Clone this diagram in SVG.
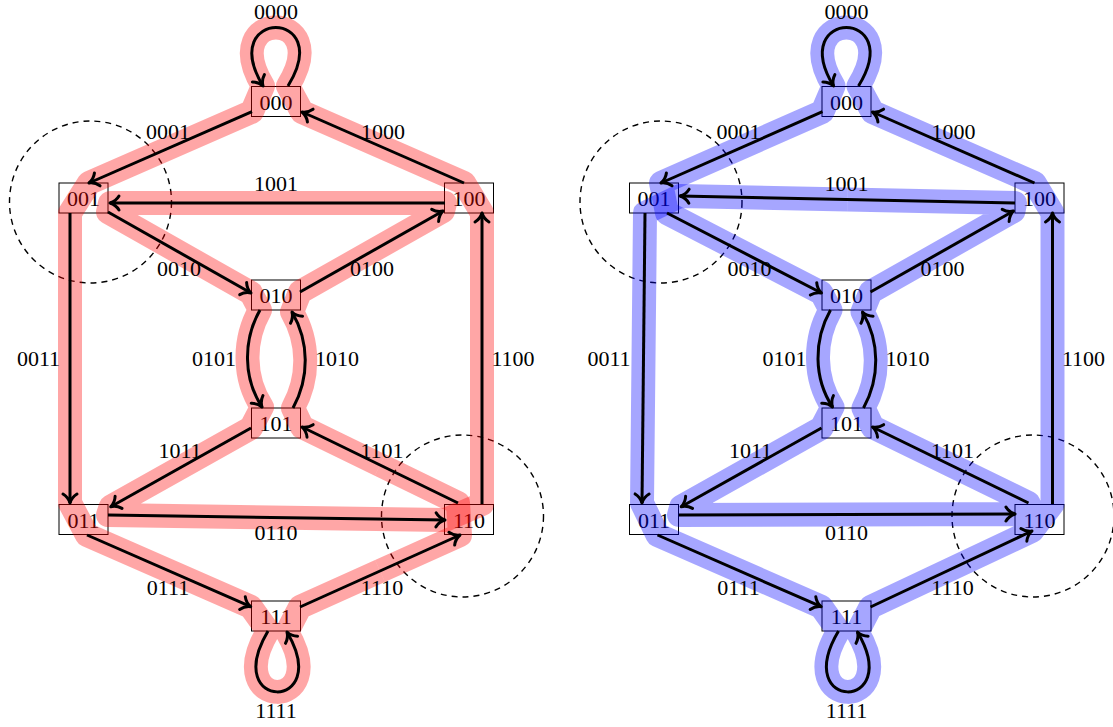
<svg xmlns="http://www.w3.org/2000/svg" width="1113" height="727" viewBox="0 0 1113 727">
<defs>
<style>
.nb{fill:#fff;stroke:#000;stroke-width:1}
.t{font-family:"Liberation Serif","Times New Roman",serif;font-size:22px;text-anchor:middle;fill:#000}
.e{fill:none;stroke:#000;stroke-width:3;marker-end:url(#ar)}
.hr{fill:none;stroke:#ff0000;stroke-opacity:0.35;stroke-width:24;stroke-linejoin:round}
.hb{fill:none;stroke:#0000ff;stroke-opacity:0.35;stroke-width:24;stroke-linejoin:round}
.dc{fill:none;stroke:#000;stroke-width:1.4;stroke-dasharray:6 5}
</style>
<marker id="ar" viewBox="-12 -9 14 18" refX="0" refY="0" markerWidth="14" markerHeight="18" markerUnits="userSpaceOnUse" orient="auto" overflow="visible">
<path d="M-9,-7 C-6,-2 -2,-0.6 0,0 C-2,0.6 -6,2 -9,7" fill="none" stroke="#000" stroke-width="3" stroke-linecap="round" stroke-linejoin="round"/>
</marker>
</defs>
<rect width="1113" height="727" fill="#fff"/>

<!-- dashed circles -->
<g id="circles">
<circle class="dc" cx="90.5" cy="202" r="81"/>
<circle class="dc" cx="462.5" cy="516" r="81"/>
<circle class="dc" cx="661" cy="202" r="81"/>
<circle class="dc" cx="1033" cy="516" r="81"/>
</g>

<!-- left graph nodes -->
<g id="L000"><rect class="nb" x="251.5" y="86.5" width="49" height="30"/><text class="t" x="276" y="109.5">000</text></g>
<g id="L001"><rect class="nb" x="59" y="183" width="49" height="30"/><text class="t" x="83.5" y="206">001</text></g>
<g id="L100"><rect class="nb" x="444.5" y="183" width="49" height="30"/><text class="t" x="469" y="206">100</text></g>
<g id="L010"><rect class="nb" x="251.5" y="280" width="49" height="30"/><text class="t" x="276" y="303">010</text></g>
<g id="L101"><rect class="nb" x="251.5" y="408" width="49" height="30"/><text class="t" x="276" y="431">101</text></g>
<g id="L011"><rect class="nb" x="59" y="504.5" width="49" height="30"/><text class="t" x="83.5" y="527.5">011</text></g>
<g id="L110"><rect class="nb" x="444.5" y="504.5" width="49" height="30"/><text class="t" x="469" y="527.5">110</text></g>
<g id="L111"><rect class="nb" x="251.5" y="601" width="49" height="30"/><text class="t" x="276" y="624">111</text></g>

<!-- right graph nodes -->
<g id="R000"><rect class="nb" x="822" y="86.5" width="49" height="30"/><text class="t" x="846.5" y="109.5">000</text></g>
<g id="R001"><rect class="nb" x="629.5" y="183" width="49" height="30"/><text class="t" x="654" y="206">001</text></g>
<g id="R100"><rect class="nb" x="1015" y="183" width="49" height="30"/><text class="t" x="1039.5" y="206">100</text></g>
<g id="R010"><rect class="nb" x="822" y="280" width="49" height="30"/><text class="t" x="846.5" y="303">010</text></g>
<g id="R101"><rect class="nb" x="822" y="408" width="49" height="30"/><text class="t" x="846.5" y="431">101</text></g>
<g id="R011"><rect class="nb" x="629.5" y="504.5" width="49" height="30"/><text class="t" x="654" y="527.5">011</text></g>
<g id="R110"><rect class="nb" x="1015" y="504.5" width="49" height="30"/><text class="t" x="1039.5" y="527.5">110</text></g>
<g id="R111"><rect class="nb" x="822" y="601" width="49" height="30"/><text class="t" x="846.5" y="624">111</text></g>

<!-- highlighted circuits -->
<g id="highlight">
<path class="hr" d="M380,465 L302,427 L293,408 C309.5,378 309.5,342 292,312 L300,292 L443,211 L445,203 L110,203 L108,212 L251,293 L260,310 C243,340 243,378 262,407 L251,428 L110.7,506.7 L108,515 L445,520 L482,504 L482,213 L464,183 L302,112 L288,86 C336,8 216,8 263,86 L252,111.7 L89,183 L70,213 L70,503 L87,535 L250.7,606.7 L268,631 C220,712 334,712 287,632 L300,607 L380,571"/>
<path class="hr" d="M380,571 L460,535 L458,503 L380,465"/>
<path class="hb" d="M643.5,358 L642,503 L657.5,535 L821.2,606.7 L838.5,631 C790.5,712 904.5,712 857.5,632 L870.5,607 L1032,531 L1052.5,504 L1052.5,213 L1034.5,183 L872.5,112 L858.5,86 C906.5,8 786.5,8 833.5,86 L822.5,111.7 L661,183 L667,213 L821.5,293 L830.5,310 C813.5,340 813.5,378 832.5,407 L821.5,428 L681.2,506.7 L679,515 L1015,514 L1028.5,503 L872.5,427 L863.5,408 C880,378 880,342 862.5,312 L870.5,292 L1013.5,211 L1015,203 L847.5,199.5"/>
<path class="hb" d="M847.5,199.5 L680,196 L645,213 L643.5,358"/>
</g>

<!-- connectors -->
<g id="connectors">
<path class="e" d="M288,86 C336,8 216,8 263,86"/>
<path class="e" d="M252,111.7 L89,183"/>
<path class="e" d="M464,183 L302,112"/>
<path class="e" d="M445,203 L110,203"/>
<path class="e" d="M108,212 L251,293"/>
<path class="e" d="M300,292 L443,211"/>
<path class="e" d="M70,213 L70,503"/>
<path class="e" d="M482,504 L482,213"/>
<path class="e" d="M260,310 C243,340 243,378 262,407"/>
<path class="e" d="M293,408 C309.5,378 309.5,342 292,312"/>
<path class="e" d="M251,428 L110.7,506.7"/>
<path class="e" d="M458,503 L302,427"/>
<path class="e" d="M108,515 L445,520"/>
<path class="e" d="M87,535 L250.7,606.7"/>
<path class="e" d="M300,607 L460,535"/>
<path class="e" d="M268,631 C220,712 334,712 287,632"/>

<path class="e" d="M858.5,86 C906.5,8 786.5,8 833.5,86"/>
<path class="e" d="M822.5,111.7 L661,183"/>
<path class="e" d="M1034.5,183 L872.5,112"/>
<path class="e" d="M1015,203 L680,196"/>
<path class="e" d="M667,213 L821.5,293"/>
<path class="e" d="M870.5,292 L1013.5,211"/>
<path class="e" d="M645,213 L642,503"/>
<path class="e" d="M1052.5,504 L1052.5,213"/>
<path class="e" d="M830.5,310 C813.5,340 813.5,378 832.5,407"/>
<path class="e" d="M863.5,408 C880,378 880,342 862.5,312"/>
<path class="e" d="M821.5,428 L681.2,506.7"/>
<path class="e" d="M1028.5,503 L872.5,427"/>
<path class="e" d="M679,515 L1015,514"/>
<path class="e" d="M657.5,535 L821.2,606.7"/>
<path class="e" d="M870.5,607 L1032,531"/>
<path class="e" d="M838.5,631 C790.5,712 904.5,712 857.5,632"/>
</g>

<!-- edge labels -->
<g id="labels">
<text class="t" x="276" y="19">0000</text>
<text class="t" x="168" y="139">0001</text>
<text class="t" x="383" y="139">1000</text>
<text class="t" x="276" y="191">1001</text>
<text class="t" x="179" y="276">0010</text>
<text class="t" x="372" y="276">0100</text>
<text class="t" x="38.5" y="366">0011</text>
<text class="t" x="214" y="366">0101</text>
<text class="t" x="337" y="366">1010</text>
<text class="t" x="513" y="366">1100</text>
<text class="t" x="180" y="458">1011</text>
<text class="t" x="382" y="458">1101</text>
<text class="t" x="276" y="540">0110</text>
<text class="t" x="168" y="595">0111</text>
<text class="t" x="382" y="595">1110</text>
<text class="t" x="276" y="718">1111</text>

<text class="t" x="846.5" y="19">0000</text>
<text class="t" x="738.5" y="139">0001</text>
<text class="t" x="953.5" y="139">1000</text>
<text class="t" x="846.5" y="191">1001</text>
<text class="t" x="749.5" y="276">0010</text>
<text class="t" x="942.5" y="276">0100</text>
<text class="t" x="609" y="366">0011</text>
<text class="t" x="784.5" y="366">0101</text>
<text class="t" x="907.5" y="366">1010</text>
<text class="t" x="1083.5" y="366">1100</text>
<text class="t" x="750.5" y="458">1011</text>
<text class="t" x="952.5" y="458">1101</text>
<text class="t" x="846.5" y="540">0110</text>
<text class="t" x="738.5" y="595">0111</text>
<text class="t" x="952.5" y="595">1110</text>
<text class="t" x="846.5" y="718">1111</text>
</g>
</svg>
